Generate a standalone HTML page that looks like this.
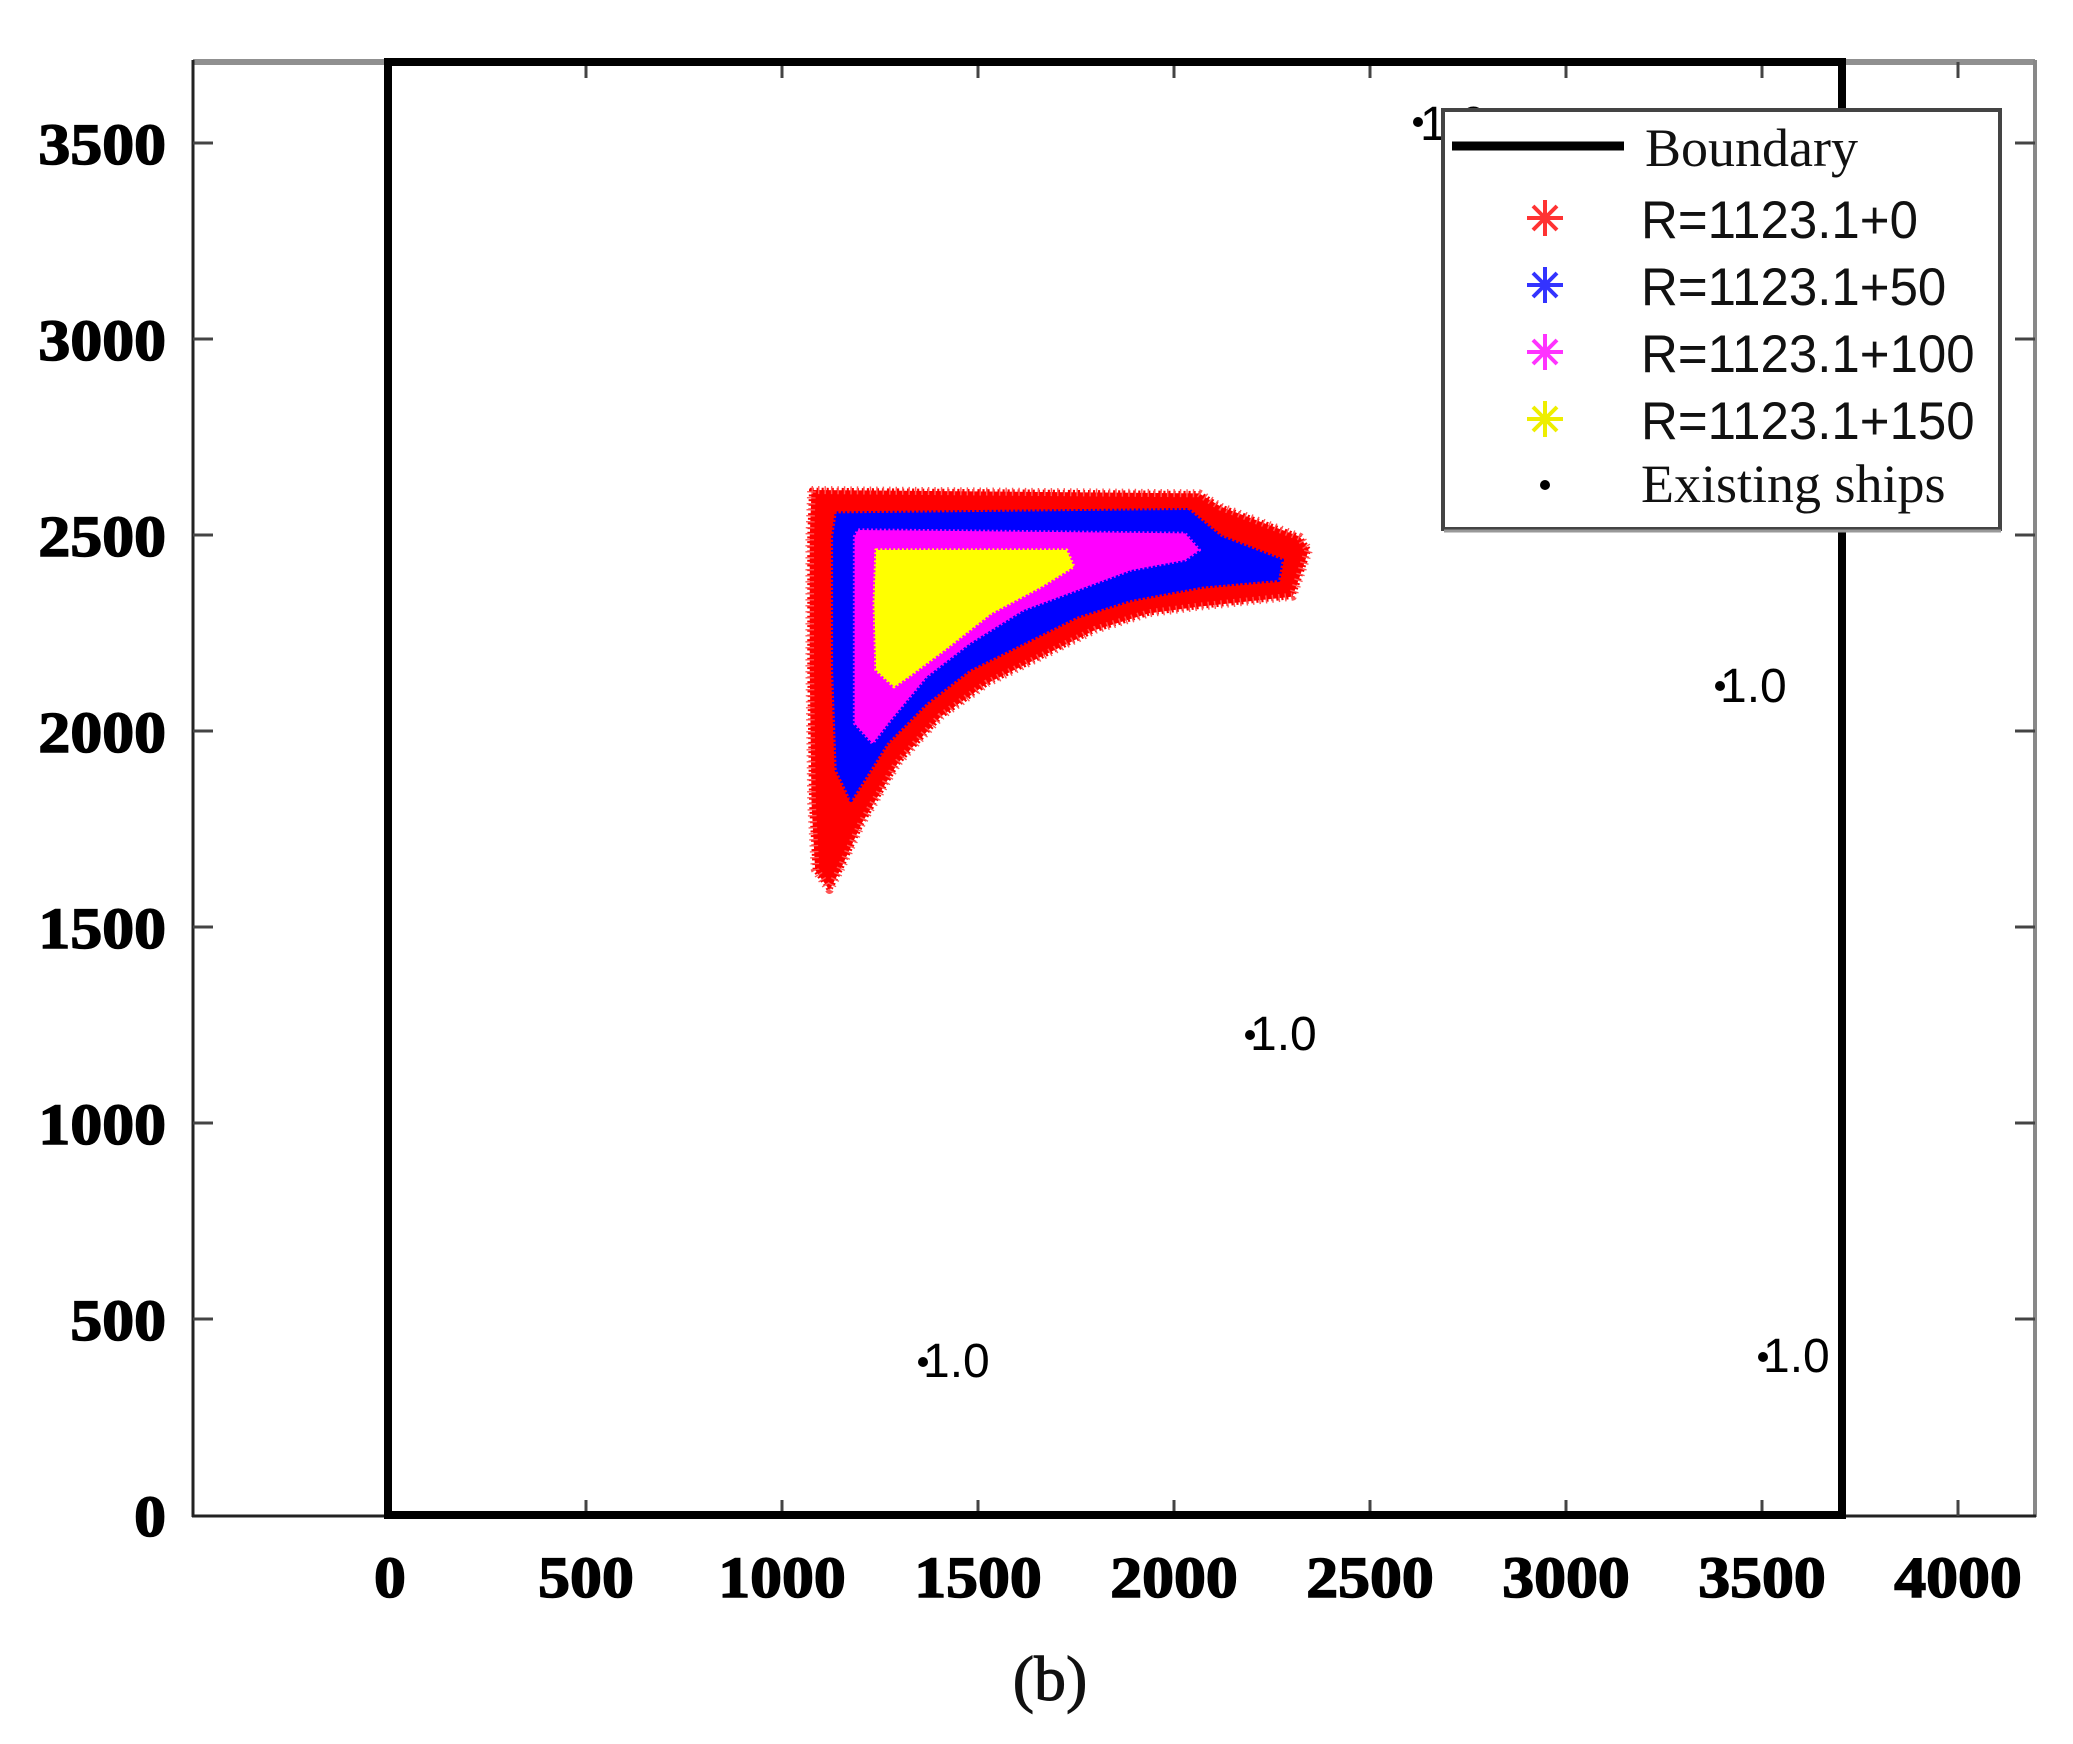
<!DOCTYPE html>
<html><head><meta charset="utf-8"><style>html,body{margin:0;padding:0;background:#fff}svg{display:block}</style></head>
<body>
<svg width="2073" height="1744" viewBox="0 0 2073 1744" xmlns="http://www.w3.org/2000/svg">
<rect width="2073" height="1744" fill="#fff"/>
<!-- blobs -->
<g transform="translate(790,470) scale(0.359,0.3333)" stroke-linejoin="round">
<polygon fill="#f00" stroke="#f00" stroke-width="14" stroke-dasharray="6 8" points="60,60 1140,70 1200,110 1420,200 1445,240 1420,320 1400,380 1140,410 1000,430 850,480 700,560 550,640 420,740 300,880 200,1060 140,1200 110,1260 70,1200 60,1000 55,600 55,200"/>
<polygon fill="none" stroke="#f55" stroke-width="24" stroke-dasharray="4 14" points="60,60 1140,70 1200,110 1420,200 1445,240 1420,320 1400,380 1140,410 1000,430 850,480 700,560 550,640 420,740 300,880 200,1060 140,1200 110,1260 70,1200 60,1000 55,600 55,200"/>
<polygon fill="#00f" stroke="#00f" stroke-width="12" stroke-dasharray="5 7" points="130,130 1110,120 1200,200 1370,270 1360,330 1150,350 950,390 800,440 650,520 500,600 380,700 270,820 200,940 170,990 130,900 120,600 120,200"/>
<polygon fill="#f0f" stroke="#f0f" stroke-width="10" stroke-dasharray="5 7" points="190,180 1100,190 1140,240 1100,270 950,300 800,360 650,420 500,520 380,620 280,750 230,820 180,760 180,400 180,200"/>
<polygon fill="#ff0" stroke="#ff0" stroke-width="10" stroke-dasharray="5 7" points="240,240 770,240 790,290 700,350 560,430 430,540 330,620 290,650 240,600 235,400"/>
</g>
<!-- axes -->
<line x1="193" y1="62" x2="2035" y2="62" stroke="#909090" stroke-width="6"/>
<line x1="2035" y1="60" x2="2035" y2="1517" stroke="#888" stroke-width="4"/>
<line x1="193" y1="60" x2="193" y2="1517" stroke="#222" stroke-width="3"/>
<line x1="192" y1="1516" x2="2036" y2="1516" stroke="#222" stroke-width="3"/>
<g stroke="#444" stroke-width="3">
<line x1="390" y1="1516" x2="390" y2="1500"/><line x1="586" y1="1516" x2="586" y2="1500"/><line x1="782" y1="1516" x2="782" y2="1500"/><line x1="978" y1="1516" x2="978" y2="1500"/><line x1="1174" y1="1516" x2="1174" y2="1500"/><line x1="1370" y1="1516" x2="1370" y2="1500"/><line x1="1566" y1="1516" x2="1566" y2="1500"/><line x1="1762" y1="1516" x2="1762" y2="1500"/><line x1="1958" y1="1516" x2="1958" y2="1500"/>
<line x1="390" y1="62" x2="390" y2="78"/><line x1="586" y1="62" x2="586" y2="78"/><line x1="782" y1="62" x2="782" y2="78"/><line x1="978" y1="62" x2="978" y2="78"/><line x1="1174" y1="62" x2="1174" y2="78"/><line x1="1370" y1="62" x2="1370" y2="78"/><line x1="1566" y1="62" x2="1566" y2="78"/><line x1="1762" y1="62" x2="1762" y2="78"/><line x1="1958" y1="62" x2="1958" y2="78"/>
<line x1="193" y1="1319" x2="213" y2="1319"/><line x1="193" y1="1123" x2="213" y2="1123"/><line x1="193" y1="927" x2="213" y2="927"/><line x1="193" y1="731" x2="213" y2="731"/><line x1="193" y1="535" x2="213" y2="535"/><line x1="193" y1="339" x2="213" y2="339"/><line x1="193" y1="143" x2="213" y2="143"/>
<line x1="2035" y1="1319" x2="2015" y2="1319"/><line x1="2035" y1="1123" x2="2015" y2="1123"/><line x1="2035" y1="927" x2="2015" y2="927"/><line x1="2035" y1="731" x2="2015" y2="731"/><line x1="2035" y1="535" x2="2015" y2="535"/><line x1="2035" y1="339" x2="2015" y2="339"/><line x1="2035" y1="143" x2="2015" y2="143"/>
</g>
<!-- boundary -->
<rect x="388" y="62" width="1454" height="1453" fill="none" stroke="#000" stroke-width="8"/>
<!-- tick labels -->
<g font-family="Liberation Serif, serif" font-weight="bold" font-size="58" fill="#000" stroke="#000" stroke-width="1.5">
<g text-anchor="middle">
<text transform="translate(390,1597) scale(1.1,1)">0</text><text transform="translate(586,1597) scale(1.1,1)">500</text><text transform="translate(782,1597) scale(1.1,1)">1000</text><text transform="translate(978,1597) scale(1.1,1)">1500</text><text transform="translate(1174,1597) scale(1.1,1)">2000</text><text transform="translate(1370,1597) scale(1.1,1)">2500</text><text transform="translate(1566,1597) scale(1.1,1)">3000</text><text transform="translate(1762,1597) scale(1.1,1)">3500</text><text transform="translate(1958,1597) scale(1.1,1)">4000</text>
</g>
<g text-anchor="end">
<text transform="translate(166,1536) scale(1.1,1)">0</text><text transform="translate(166,1340) scale(1.1,1)">500</text><text transform="translate(166,1144) scale(1.1,1)">1000</text><text transform="translate(166,948) scale(1.1,1)">1500</text><text transform="translate(166,752) scale(1.1,1)">2000</text><text transform="translate(166,556) scale(1.1,1)">2500</text><text transform="translate(166,360) scale(1.1,1)">3000</text><text transform="translate(166,164) scale(1.1,1)">3500</text>
</g>
</g>
<text x="1050" y="1700" text-anchor="middle" font-family="Liberation Serif, serif" font-size="64" fill="#111" stroke="#111" stroke-width="1">(b)</text>
<!-- ships -->
<g fill="#000" font-family="Liberation Sans, sans-serif" font-size="48">
<circle cx="1418" cy="122" r="5"/><text x="1420" y="140">1.0</text>
<circle cx="1720" cy="686" r="5"/><text x="1720" y="702">1.0</text>
<circle cx="1250" cy="1035" r="5"/><text x="1250" y="1050">1.0</text>
<circle cx="923" cy="1362" r="5"/><text x="923" y="1377">1.0</text>
<circle cx="1763" cy="1357" r="5"/><text x="1763" y="1372">1.0</text>
</g>
<!-- legend -->
<rect x="1443" y="110" width="557" height="419" fill="#fff" stroke="#444" stroke-width="4"/>
<line x1="1444" y1="531" x2="2001" y2="531" stroke="#999" stroke-width="3"/>
<line x1="1452" y1="146" x2="1624" y2="146" stroke="#000" stroke-width="9"/>
<text x="1645" y="166" font-family="Liberation Serif, serif" font-size="54" fill="#111">Boundary</text>
<g stroke-width="4">
<g stroke="#f33" transform="translate(1545,218)"><line x1="-18" y1="0" x2="18" y2="0"/><line x1="0" y1="-18" x2="0" y2="18"/><line x1="-12" y1="-12" x2="12" y2="12"/><line x1="-12" y1="12" x2="12" y2="-12"/></g>
<g stroke="#33f" transform="translate(1545,285)"><line x1="-18" y1="0" x2="18" y2="0"/><line x1="0" y1="-18" x2="0" y2="18"/><line x1="-12" y1="-12" x2="12" y2="12"/><line x1="-12" y1="12" x2="12" y2="-12"/></g>
<g stroke="#f3f" transform="translate(1545,352)"><line x1="-18" y1="0" x2="18" y2="0"/><line x1="0" y1="-18" x2="0" y2="18"/><line x1="-12" y1="-12" x2="12" y2="12"/><line x1="-12" y1="12" x2="12" y2="-12"/></g>
<g stroke="#ee0" transform="translate(1545,419)"><line x1="-18" y1="0" x2="18" y2="0"/><line x1="0" y1="-18" x2="0" y2="18"/><line x1="-12" y1="-12" x2="12" y2="12"/><line x1="-12" y1="12" x2="12" y2="-12"/></g>
</g>
<circle cx="1545" cy="485" r="5" fill="#000"/>
<g font-family="Liberation Sans, sans-serif" font-size="50" fill="#111">
<text transform="translate(1641,238) scale(1.02,1.05)">R=1123.1+0</text>
<text transform="translate(1641,305) scale(1.02,1.05)">R=1123.1+50</text>
<text transform="translate(1641,372) scale(1.02,1.05)">R=1123.1+100</text>
<text transform="translate(1641,439) scale(1.02,1.05)">R=1123.1+150</text>
</g>
<text x="1641" y="502" font-family="Liberation Serif, serif" font-size="54" fill="#111">Existing ships</text>
</svg>
</body></html>
